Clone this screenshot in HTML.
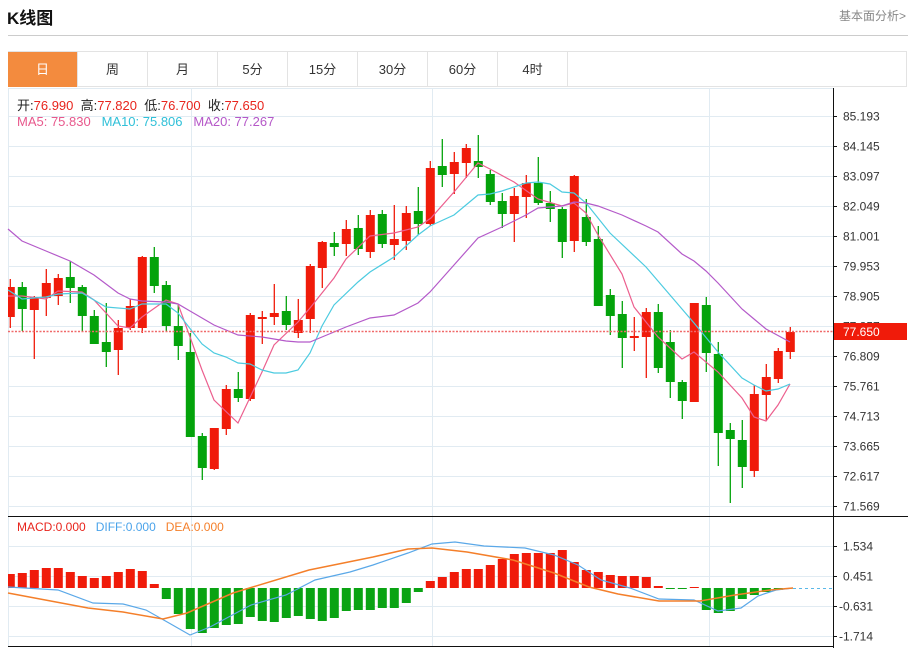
<!DOCTYPE html>
<html><head><meta charset="utf-8"><style>
body{margin:0;width:910px;height:648px;background:#fff;font-family:"Liberation Sans","Noto Sans CJK SC",sans-serif;overflow:hidden;position:relative}
.t{position:absolute;white-space:nowrap}
.tab{position:absolute;top:52px;height:35px;width:70px;line-height:35px;text-align:center;font-size:13px;color:#333;border-right:1px solid #e3e3e3;box-sizing:border-box}
</style></head><body>
<div class="t" style="left:7px;top:4px;font-size:17px;font-weight:bold;color:#111">K线图</div>
<div class="t" style="left:839px;top:7px;font-size:12px;color:#888">基本面分析&gt;</div>
<div style="position:absolute;left:8px;top:35px;width:900px;height:1px;background:#ccc"></div>
<div style="position:absolute;left:8px;top:51px;width:899px;height:36px;border:1px solid #e3e3e3;border-bottom:1px solid #e3e3e3;box-sizing:border-box"></div>
<div class="tab" style="left:8px;background:#f38b3e;color:#fff">日</div>
<div class="tab" style="left:78px">周</div>
<div class="tab" style="left:148px">月</div>
<div class="tab" style="left:218px">5分</div>
<div class="tab" style="left:288px">15分</div>
<div class="tab" style="left:358px">30分</div>
<div class="tab" style="left:428px">60分</div>
<div class="tab" style="left:498px">4时</div>
<svg id="s" width="910" height="648" style="position:absolute;left:0;top:0"></svg>
<div class="t" style="left:17px;top:95px;font-size:13px;color:#222">开:<span style="color:#e8241c">76.990</span>&nbsp;&nbsp;高:<span style="color:#e8241c">77.820</span>&nbsp;&nbsp;低:<span style="color:#e8241c">76.700</span>&nbsp;&nbsp;收:<span style="color:#e8241c">77.650</span></div>
<div class="t" style="left:17px;top:114px;font-size:13px"><span style="color:#e8588c">MA5: 75.830</span>&nbsp;&nbsp;&nbsp;<span style="color:#2fc0d8">MA10: 75.806</span>&nbsp;&nbsp;&nbsp;<span style="color:#b558c8">MA20: 77.267</span></div>
<div class="t" style="left:17px;top:520px;font-size:12px"><span style="color:#e8241c">MACD:0.000</span>&nbsp;&nbsp;&nbsp;<span style="color:#4aa3ea">DIFF:0.000</span>&nbsp;&nbsp;&nbsp;<span style="color:#f47f2a">DEA:0.000</span></div>
<script>
var s=document.getElementById('s'),h='';
function L(x1,y1,x2,y2,c,w,d){h+='<line x1="'+x1+'" y1="'+y1+'" x2="'+x2+'" y2="'+y2+'" stroke="'+c+'" stroke-width="'+(w||1)+'"'+(d?' stroke-dasharray="'+d+'"':'')+'/>';}
// grid
var pl=['85.193','84.145','83.097','82.049','81.001','79.953','78.905','77.857','76.809','75.761','74.713','73.665','72.617','71.569'];
for(var i=0;i<14;i++){var y=116+30*i;L(8,y+.5,833,y+.5,'#e1ebf2');}
L(8,88.5,833,88.5,'#e1ebf2');
[191.5,432.5,709.5].forEach(function(x){L(x,88,x,646,'#e1ebf2');});
L(8.5,88,8.5,646,'#e1ebf2');
[546,576,606,636].forEach(function(y){L(8,y+.5,833,y+.5,'#e1ebf2');});
// candles [o,c,h,l] in px (y)
var C=[[317,287,279,328],[287,309,282,331],[310,297,296,359],[298,283,269,316],[296,278,274,305],[277,288,261,303],[287,316,285,332],[316,344,310,344],[342,352,303,367],[350,328,320,375],[328,306,299,330],[328,257,256,333],[257,286,247,293],[285,326,281,332],[326,346,305,360],[352,437,333,437],[436,468,433,480],[469,428,428,470],[429,389,385,435],[389,398,372,402],[399,315,313,401],[319,317,311,344],[317,313,284,325],[311,325,296,330],[333,320,299,338],[319,266,264,333],[268,242,241,288],[243,247,232,256],[244,229,220,256],[228,249,215,255],[252,215,210,258],[214,244,210,248],[245,239,205,260],[241,213,206,250],[211,224,187,235],[224,168,161,226],[166,175,139,187],[174,162,152,194],[163,148,144,178],[161,167,135,178],[174,202,170,205],[201,214,193,228],[214,196,188,242],[197,183,175,218],[183,203,157,205],[203,209,191,222],[209,242,207,258],[241,176,175,252],[217,242,199,246],[239,306,226,306],[295,316,289,335],[314,338,301,368],[338,336,317,351],[337,312,308,378],[312,368,304,373],[342,382,330,398],[382,401,380,419],[402,303,303,402],[305,353,297,372],[354,433,342,466],[430,439,423,503],[440,467,420,488],[471,394,385,477],[395,377,364,420],[379,351,348,383],[352,332,327,359]];
C.forEach(function(c,i){var x=10.3+12*i,up=c[1]<c[0],col=up?'#f01b0a':'#04a30b';
L(x,c[2],x,c[3],col,1.3);var t=Math.min(c[0],c[1]),b=Math.max(c[0],c[1]);if(b-t<2)b=t+2;
var x0=Math.max(8,x-4.5);h+='<rect x="'+x0+'" y="'+t+'" width="'+(x+4.5-x0)+'" height="'+(b-t)+'" fill="'+col+'"/>';});
function P(pts,c,w){h+='<polyline fill="none" stroke="'+c+'" stroke-width="'+(w||1.2)+'" points="'+pts.map(function(p){return p.join(',')}).join(' ')+'"/>';}
P([[8,296],[22,296],[46,299],[58,291],[82,292],[94,300],[118,326],[130,328],[142,317],[166,300],[178,304],[202,370],[214,400],[238,423],[262,372],[274,345],[298,322],[310,308],[334,278],[346,259],[370,236],[394,233],[418,227],[431,218],[454,192],[478,163],[490,169],[514,182],[538,199],[562,206],[574,203],[586,213],[598,235],[622,274],[634,307],[658,337],[682,359],[694,352],[718,372],[742,398],[754,417],[766,421],[778,405],[790,384]],'#ec5f8e');
P([[8,290],[22,299],[46,297],[58,294],[82,293],[106,307],[130,309],[142,304],[166,304],[178,313],[202,344],[214,353],[226,357],[238,363],[250,364],[262,370],[274,373],[286,373],[298,370],[310,353],[322,326],[334,305],[358,282],[370,272],[394,257],[418,235],[430,226],[454,215],[478,195],[490,194],[502,191],[526,183],[538,182],[550,184],[562,192],[574,193],[586,203],[610,233],[646,267],[670,295],[694,323],[718,352],[742,378],[754,385],[766,391],[778,389],[790,384]],'#4ccbe0');
P([[8,229],[22,241],[46,251],[70,261],[94,275],[118,293],[130,299],[142,301],[166,302],[178,304],[190,311],[214,325],[238,335],[262,337],[286,341],[298,342],[310,342],[322,337],[346,327],[370,318],[394,315],[418,303],[430,292],[454,265],[478,238],[502,227],[526,215],[538,208],[562,206],[574,202],[586,203],[598,206],[622,215],[646,226],[658,232],[682,254],[694,261],[706,271],[718,283],[742,309],[754,319],[766,329],[790,342]],'#b45ac9');
L(8,331.5,833,331.5,'#f06a6a',1.5,'2,1.5');
// MACD
var M={0:574,1:573,2:570,3:568,4:568,5:572,6:576,7:578,8:576,9:572,10:569,11:571,12:584,13:599,14:614,15:629,16:633,17:628,18:625,19:624,20:617,21:621,22:622,23:618,24:616,25:619,26:621,27:618,28:611,29:610,30:610,31:608,32:608,33:603,34:592,35:581,36:577,37:572,38:569,39:569,40:565,41:559,42:554,43:553,44:553,45:553,46:550,47:562,48:570,49:572,50:575,51:576,52:576,53:577,54:586,55:588,56:589,57:587,58:610,59:613,60:611,61:599,62:595,63:592,64:590};
for(var k in M){var x=10.3+12*k,v=M[k],z=588,x0=Math.max(8,x-4.5);var t=Math.min(v,z),b=Math.max(v,z);if(b-t<1)b=t+1;
h+='<rect x="'+x0+'" y="'+t+'" width="'+(x+4.5-x0)+'" height="'+(b-t)+'" fill="'+(v<z?'#f01b0a':'#0aa313')+'"/>';}
P([[8,587],[58,590],[93,603],[123,604],[146,610],[169,623],[190,635],[210,627],[251,605],[286,595],[315,580],[350,572],[373,565],[408,553],[432,544],[455,542],[484,546],[525,548],[554,555],[578,565],[601,580],[630,588],[659,599],[694,600],[718,611],[741,608],[758,596],[776,590],[793,588]],'#5aa8e8');
P([[8,593],[88,608],[123,612],[163,619],[187,613],[233,593],[309,570],[373,557],[408,549],[432,548],[467,552],[513,560],[554,573],[589,587],[618,594],[659,601],[700,601],[735,595],[770,590],[793,588]],'#f47f2a',1.5);
L(793,588.5,833,588.5,'#5ab8e8',1,'3,3');
// axes
L(833.5,88,833.5,648,'#111');L(8,516.5,908,516.5,'#111');L(8,646.5,833,646.5,'#111');
pl.forEach(function(t,i){var y=116+30*i;L(833,y+.5,837,y+.5,'#111');h+='<text x="843" y="'+(y+4.5)+'" font-size="12" fill="#333" font-family="Liberation Sans">'+t+'</text>';});
[['1.534',546],['0.451',576],['-0.631',606],['-1.714',636]].forEach(function(a){L(833,a[1]+.5,837,a[1]+.5,'#111');h+='<text x="'+(a[0][0]=='-'?839:843)+'" y="'+(a[1]+4.5)+'" font-size="12" fill="#333" font-family="Liberation Sans">'+a[0]+'</text>';});
h+='<rect x="834" y="323" width="73" height="17" fill="#f01b0a"/><text x="843" y="336" font-size="12" fill="#fff" font-family="Liberation Sans">77.650</text>';
s.innerHTML=h;
</script>
</body></html>
